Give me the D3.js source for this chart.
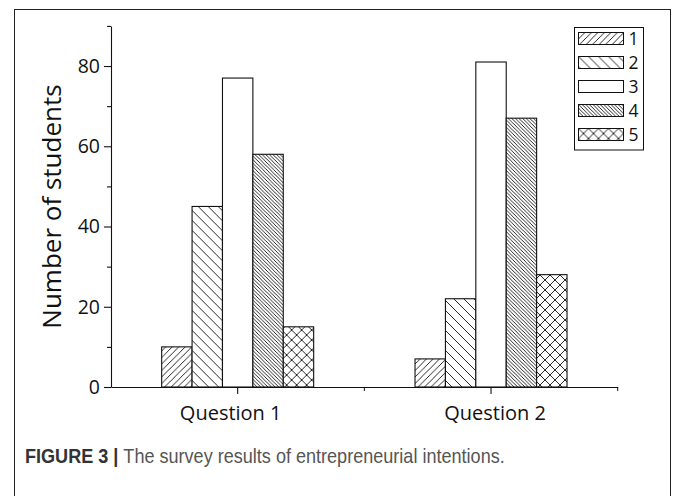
<!DOCTYPE html>
<html>
<head>
<meta charset="utf-8">
<script src="https://cdn.jsdelivr.net/npm/d3@7"></script>
<style>
    body { margin: 0; background: #fff; }
    svg { display: block; font-family: "Open Sans", "Noto Sans", sans-serif; }
    .caption { font-family: "Liberation Sans", Arial, sans-serif; }
</style>
</head>
<body>
<div id="chart"></div>
<script>
// data
let questions = ["Question 1", "Question 2"];
let answers = ["1", "2", "3", "4", "5"];
let q1Values = [10, 45, 77, 58, 15];
let q2Values = [7, 22, 81, 67, 28];
let yMajorTicks = [0, 20, 40, 60, 80];
let yMinorTicks = [10, 30, 50, 70, 90];

let values = [q1Values, q2Values];

let width = 673, height = 496;

let svg = d3.select("#chart").append("svg")
    .attr("width", width)
    .attr("height", height);

// outer frame of the figure
svg.append("rect")
    .attr("x", 14.5).attr("y", 9.5)
    .attr("width", 656).attr("height", 500)
    .attr("fill", "none")
    .attr("stroke", "#222")
    .attr("stroke-width", 1);

// hatch patterns
let defs = svg.append("defs");
function hatch(id, s, dir) {
    let p = defs.append("pattern")
        .attr("id", id)
        .attr("patternUnits", "userSpaceOnUse")
        .attr("width", s).attr("height", s);
    p.append("rect").attr("width", s).attr("height", s).attr("fill", "#fff");
    let d = "";
    if (dir === "/" || dir === "x")
        d += `M0,${s} L${s},0 M${-1},1 L1,${-1} M${s - 1},${s + 1} L${s + 1},${s - 1} `;
    if (dir === "\\" || dir === "x")
        d += `M0,0 L${s},${s} M${-1},${s - 1} L1,${s + 1} M${s - 1},${-1} L${s + 1},1`;
    if (d) p.append("path").attr("d", d).attr("stroke", "#111").attr("stroke-width", 0.9);
}
hatch("pat1", 6.5, "/");
hatch("pat2", 10, "\\");
hatch("pat3", 8, "none");
hatch("pat4", 3.6, "\\");
hatch("pat5", 10, "x");
let fills = answers.map((d, i) => `url(#pat${i + 1})`);

// scales
let x0 = d3.scaleBand()
    .domain(questions)
    .range([111, 617.7])
    .paddingInner(0.4)
    .paddingOuter(0.2);

let x1 = d3.scaleBand()
    .domain(answers)
    .range([0, x0.bandwidth()]);

let y = d3.scaleLinear()
    .domain([0, 90])
    .range([387, 25.9]);

// bars
let groups = svg.selectAll(".group")
    .data(questions)
    .enter().append("g")
    .attr("class", "group")
    .attr("transform", d => `translate(${x0(d)},0)`);

groups.selectAll("rect")
    .data((d, i) => answers.map((a, j) => ({answer: a, value: values[i][j]})))
    .enter().append("rect")
    .attr("x", d => x1(d.answer))
    .attr("y", d => y(d.value))
    .attr("width", x1.bandwidth())
    .attr("height", d => y(0) - y(d.value))
    .attr("fill", (d, j) => fills[j])
    .attr("stroke", "#111")
    .attr("stroke-width", 1.1);

// y axis
svg.append("g")
    .attr("transform", "translate(111,0)")
    .call(d3.axisLeft(y).tickValues(yMajorTicks).tickSize(7).tickSizeOuter(0).tickPadding(4));
svg.append("g")
    .attr("transform", "translate(111,0)")
    .call(d3.axisLeft(y).tickValues(yMinorTicks).tickSize(4).tickSizeOuter(0).tickFormat(""))
    .select(".domain").remove();

// x axis
let xAxis = svg.append("g")
    .attr("transform", `translate(0,${y(0)})`)
    .call(d3.axisBottom(x0).tickSize(7).tickSizeOuter(0));
let labelShift = [-7, 4];
xAxis.selectAll(".tick text")
    .attr("y", 0).attr("dy", 0)
    .attr("transform", (d, i) => `translate(${labelShift[i]},33)`);
svg.append("g").selectAll("line")
    .data(questions)
    .enter().append("line")
    .attr("x1", d => x0(d) + x0.bandwidth() / 2 + x0.step() / 2)
    .attr("x2", d => x0(d) + x0.bandwidth() / 2 + x0.step() / 2)
    .attr("y1", y(0)).attr("y2", y(0) + 4)
    .attr("stroke", "#111");

svg.selectAll(".domain, .tick line").attr("stroke", "#111").attr("stroke-width", 1.1);
svg.selectAll(".tick text")
    .attr("fill", "#111")
    .style("font-size", "19.5px")
    .style("font-family", "'Open Sans', sans-serif");
xAxis.selectAll(".tick text").style("font-size", "20px");

// y axis title
svg.append("text")
    .attr("transform", "translate(61,206.5) rotate(-90)")
    .attr("text-anchor", "middle")
    .attr("fill", "#111")
    .style("font-size", "26px")
    .text("Number of students");

// legend
let legend = svg.append("g").attr("transform", "translate(574.5,27.5)");
legend.append("rect")
    .attr("width", 69).attr("height", 122.5)
    .attr("fill", "#fff").attr("stroke", "#111").attr("stroke-width", 1);
let items = legend.selectAll(".item")
    .data(answers)
    .enter().append("g")
    .attr("class", "item")
    .attr("transform", (d, i) => `translate(4,${5 + i * 24})`);
items.append("rect")
    .attr("width", 45).attr("height", 12)
    .attr("fill", (d, i) => fills[i])
    .attr("stroke", "#111").attr("stroke-width", 1);
items.append("text")
    .attr("x", 50).attr("y", 6).attr("dy", "0.36em")
    .attr("fill", "#111")
    .style("font-size", "17.5px")
    .text(d => d);

// caption, squeezed to look like a condensed face
let caption = svg.append("text")
    .attr("class", "caption")
    .attr("x", 0).attr("y", 0)
    .style("font-size", "20px");
caption.append("tspan")
    .attr("font-weight", "bold")
    .attr("fill", "#333")
    .text("FIGURE 3 | ");
caption.append("tspan")
    .attr("fill", "#555")
    .text("The survey results of entrepreneurial intentions.");
let capW = caption.node().getComputedTextLength();
caption.attr("transform", `translate(25,463) scale(${480 / capW},1)`);
</script>
</body>
</html>
